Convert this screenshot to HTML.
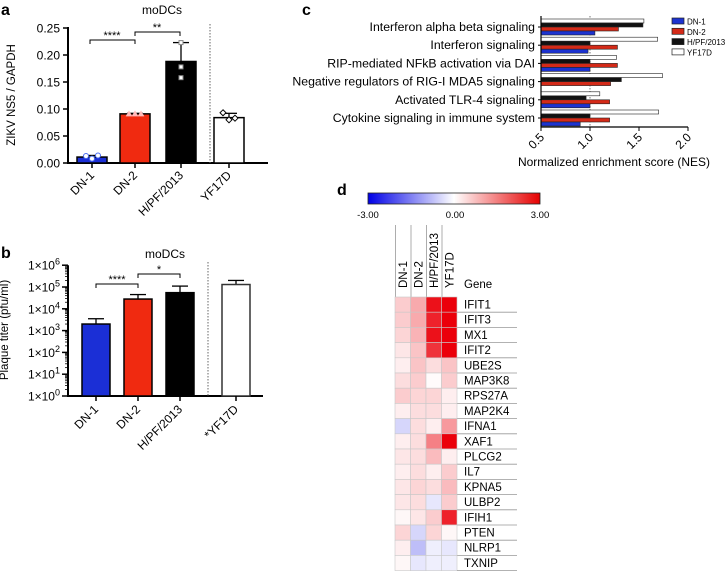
<!DOCTYPE html>
<html><head><meta charset="utf-8"><style>
body{margin:0;background:#fff}
svg{display:block;font-family:"Liberation Sans",Arial,sans-serif}
</style></head><body>
<svg id="fig" width="727" height="572" viewBox="0 0 727 572">
<g id="pa"></g>
<g id="pb"></g>
<g id="pc"></g>
<g id="pd"></g>
</svg>
<script>
// ---------- data ----------
const aCats = ["DN-1","DN-2","H/PF/2013","YF17D"];
const aVals = [0.011,0.091,0.188,0.084];
const aErr = [0.014,0.092,0.223,0.092];
const aPts = [[0.013,0.008,0.014],[0.091,0.091,0.091],[0.223,0.178,0.158],[0.093,0.080,0.083]];
const aTicks = [0,0.05,0.10,0.15,0.20,0.25];
const aTickLabels = ["0.00","0.05","0.10","0.15","0.20","0.25"];

const bCats = ["DN-1","DN-2","H/PF/2013","*YF17D"];
const bVals = [2000,28000,55000,130000];
const bErr = [3500,45000,110000,200000];
const bExps = [0,1,2,3,4,5,6];

const cCats = ["Interferon alpha beta signaling","Interferon signaling","RIP-mediated NFkB activation via DAI","Negative regulators of RIG-I MDA5 signaling","Activated TLR-4 signaling","Cytokine signaling in immune system"];
const cSeries = ["DN-1","DN-2","H/PF/2013","YF17D"];
const cDN1 = [1.05,0.98,1.0,0.5,1.0,0.9];
const cDN2 = [1.29,1.28,1.28,1.21,1.2,1.2];
const cHPF = [1.54,1.0,1.0,1.32,0.96,1.0];
const cYF = [1.55,1.69,1.27,1.74,1.1,1.7];
const cTicks = [0.5,1.0,1.5,2.0];

const dCols = ["DN-1","DN-2","H/PF/2013","YF17D"];
const dGenes = ["IFIT1","IFIT3","MX1","IFIT2","UBE2S","MAP3K8","RPS27A","MAP2K4","IFNA1","XAF1","PLCG2","IL7","KPNA5","ULBP2","IFIH1","PTEN","NLRP1","TXNIP"];
const dVals = [[0.6,1.0,2.8,3.0],[0.6,1.0,2.6,3.0],[0.5,0.9,2.8,3.0],[0.3,0.7,2.4,3.0],[0.2,0.7,0.4,0.7],[0.4,0.6,0.05,0.6],[0.6,0.5,0.5,0.2],[0.2,0.4,0.4,0.2],[-0.5,0.4,0.2,1.2],[0.2,0.4,1.5,3.0],[0.3,0.4,0.8,0.2],[0.2,0.4,0.2,0.6],[0.3,0.5,0.4,0.8],[0.3,0.4,-0.3,0.6],[0.1,0.3,0.6,2.6],[0.5,-0.5,0.5,0.1],[0.2,-0.8,-0.2,-0.3],[0.1,-0.3,-0.2,-0.2]];

// ---------- helpers ----------
const NS="http://www.w3.org/2000/svg";
function mk(parent,tag,attrs,text){const e=document.createElementNS(NS,tag);for(const k in attrs)e.setAttribute(k,attrs[k]);if(text!==undefined)e.textContent=text;parent.appendChild(e);return e;}
const fills=["#1b2fd6","#f02a10","#000","#fff"];

// ---------- panel a ----------
const pa=document.getElementById('pa');
const ya=v=>163-v/0.25*135;
const xaC=[92,135,181,229];
let t=mk(pa,'text',{x:1,y:15,'font-size':16,'font-weight':'bold'},'a');

t=mk(pa,'text',{x:162,y:14,'font-size':12,'text-anchor':'middle'},'moDCs');

t=mk(pa,'text',{x:15,y:95,'font-size':11.5,'text-anchor':'middle',transform:'rotate(-90 15 95)'},'ZIKV NS5 / GAPDH');

mk(pa,'line',{x1:68,y1:ya(0.25)-1,x2:68,y2:164,stroke:'#000','stroke-width':2});
mk(pa,'line',{x1:67,y1:163,x2:268,y2:163,stroke:'#000','stroke-width':2});
aTicks.forEach((v,i)=>{mk(pa,'line',{x1:63,y1:ya(v),x2:68,y2:ya(v),stroke:'#000','stroke-width':1.5});
 const l=mk(pa,'text',{x:60,y:ya(v)+4.5,'font-size':12,'text-anchor':'end'},aTickLabels[i]);
 });
mk(pa,'line',{x1:210,y1:24,x2:210,y2:163,stroke:'#666','stroke-width':1,'stroke-dasharray':'1.5,1.5'});
aCats.forEach((c,i)=>{const x=xaC[i];
 const r=mk(pa,'rect',{x:x-15,y:ya(aVals[i]),width:30,height:163-ya(aVals[i]),fill:fills[i],stroke:'#000','stroke-width':1.5});
 
 mk(pa,'line',{x1:x,y1:ya(aVals[i]),x2:x,y2:ya(aErr[i]),stroke:'#000','stroke-width':1.3});
 mk(pa,'line',{x1:x-8,y1:ya(aErr[i]),x2:x+8,y2:ya(aErr[i]),stroke:'#000','stroke-width':1.3});
 mk(pa,'line',{x1:x,y1:163,x2:x,y2:168,stroke:'#000','stroke-width':1.5});
 aPts[i].forEach((p,j)=>{const px=x-6+j*6,py=ya(p);
  if(i==0)mk(pa,'circle',{cx:px,cy:py,r:2.5,fill:'#fff',stroke:'#4a6cf0','stroke-width':1});
  else if(i==1)mk(pa,'path',{d:`M${px-2.5},${py+2} L${px},${py-2.5} L${px+2.5},${py+2}Z`,fill:'#fbb',stroke:'#fbb'});
  else if(i==2)mk(pa,'rect',{x:x-2,y:py-2,width:4,height:4,fill:'#fff',stroke:'#888','stroke-width':1});
  else mk(pa,'path',{d:`M${px},${py-3} L${px+3},${py} L${px},${py+3} L${px-3},${py}Z`,fill:'#fff',stroke:'#000','stroke-width':1});});
 const l=mk(pa,'text',{x:x+3,y:176,'font-size':12,'text-anchor':'end',transform:`rotate(-45 ${x+3} 176)`},c);
 });
mk(pa,'path',{d:'M90,44 V40 H135 V44',fill:'none',stroke:'#000','stroke-width':1});
mk(pa,'path',{d:'M135,36 V32 H180 V36',fill:'none',stroke:'#000','stroke-width':1});
mk(pa,'text',{x:112,y:39,'font-size':11,'text-anchor':'middle'},'****');
mk(pa,'text',{x:157,y:31,'font-size':11,'text-anchor':'middle'},'**');

// ---------- panel b ----------
const pb=document.getElementById('pb');
const yb=v=>396-Math.log10(v)*21.8;
const xbC=[96,138,180,236];
t=mk(pb,'text',{x:1,y:258,'font-size':16,'font-weight':'bold'},'b');

t=mk(pb,'text',{x:165,y:258,'font-size':12,'text-anchor':'middle'},'moDCs');

t=mk(pb,'text',{x:8,y:330,'font-size':11.5,'text-anchor':'middle',transform:'rotate(-90 8 330)'},'Plaque titer (pfu/ml)');

mk(pb,'line',{x1:68,y1:yb(1e6),x2:68,y2:397,stroke:'#000','stroke-width':2});
mk(pb,'line',{x1:67,y1:396,x2:263,y2:396,stroke:'#000','stroke-width':2});
bExps.forEach(e=>{const y=yb(Math.pow(10,e));
 mk(pb,'line',{x1:62,y1:y,x2:68,y2:y,stroke:'#000','stroke-width':1.5});
 if(e<6)for(let m=2;m<10;m++){const yy=yb(m*Math.pow(10,e));mk(pb,'line',{x1:65,y1:yy,x2:68,y2:yy,stroke:'#000','stroke-width':0.8});}
 const l=mk(pb,'text',{x:60,y:y+4.5,'font-size':12,'text-anchor':'end'});
 
 mk(l,'tspan',{},'1×10');mk(l,'tspan',{dy:-5,'font-size':9},String(e));});
mk(pb,'line',{x1:208,y1:262,x2:208,y2:396,stroke:'#666','stroke-width':1,'stroke-dasharray':'1.5,1.5'});
bCats.forEach((c,i)=>{const x=xbC[i];
 mk(pb,'line',{x1:x,y1:yb(bVals[i]),x2:x,y2:yb(bErr[i]),stroke:'#000','stroke-width':1.3});
 mk(pb,'line',{x1:x-8,y1:yb(bErr[i]),x2:x+8,y2:yb(bErr[i]),stroke:'#000','stroke-width':1.3});
 const r=mk(pb,'rect',{x:x-14,y:yb(bVals[i]),width:28,height:396-yb(bVals[i]),fill:fills[i],stroke:i==3?'#333':'#000','stroke-width':1.5});
 
 mk(pb,'line',{x1:x,y1:396,x2:x,y2:401,stroke:'#000','stroke-width':1.5});
 const l=mk(pb,'text',{x:x+3,y:410,'font-size':12,'text-anchor':'end',transform:`rotate(-45 ${x+3} 410)`},c);
 });
mk(pb,'path',{d:'M96,288 V284 H138 V288',fill:'none',stroke:'#000','stroke-width':1});
mk(pb,'path',{d:'M138,278 V274 H180 V278',fill:'none',stroke:'#000','stroke-width':1});
mk(pb,'text',{x:117,y:283,'font-size':11,'text-anchor':'middle'},'****');
mk(pb,'text',{x:159,y:273,'font-size':11,'text-anchor':'middle'},'*');

// ---------- panel c ----------
const pc=document.getElementById('pc');
const xc=v=>541+(v-0.5)*98;
const cAll=[cYF,cHPF,cDN2,cDN1];
const cFill=['#fff','#111','#d42a18','#1d33d0'];
t=mk(pc,'text',{x:302,y:15,'font-size':16,'font-weight':'bold'},'c');

mk(pc,'line',{x1:xc(1.0),y1:16,x2:xc(1.0),y2:127,stroke:'#555','stroke-width':0.8,'stroke-dasharray':'1.5,1.5'});
cCats.forEach((c,i)=>{const g=19+18.2*i;
 cAll.forEach((s,k)=>{const v=s[i];
  const r=mk(pc,'rect',{x:xc(0.5),y:g+k*4,width:Math.max(0,xc(v)-xc(0.5)),height:4,fill:cFill[k],stroke:'#222','stroke-width':0.6});
  });
 mk(pc,'line',{x1:538,y1:g+8,x2:541,y2:g+8,stroke:'#000','stroke-width':1});
 const l=mk(pc,'text',{x:535,y:g+12,'font-size':12.3,'text-anchor':'end'},c);
 });
mk(pc,'line',{x1:541,y1:16,x2:541,y2:127.5,stroke:'#000','stroke-width':1.2});
mk(pc,'line',{x1:541,y1:127,x2:xc(2.0),y2:127,stroke:'#000','stroke-width':1.2});
cTicks.forEach(v=>{mk(pc,'line',{x1:xc(v),y1:127,x2:xc(v),y2:131,stroke:'#000','stroke-width':1});
 const l=mk(pc,'text',{x:xc(v)+4,y:138,'font-size':12,'text-anchor':'end',transform:`rotate(-45 ${xc(v)+4} 138)`},v.toFixed(1));
 });
t=mk(pc,'text',{x:614,y:166,'font-size':12,'text-anchor':'middle'},'Normalized enrichment score (NES)');

cSeries.forEach((s,k)=>{const y=18+k*10.3;
 const r=mk(pc,'rect',{x:672,y:y,width:12,height:6,fill:cFill[3-k],stroke:'#222','stroke-width':0.7});
 
 const l=mk(pc,'text',{x:687,y:y+6.5,'font-size':8},s);
 });

// ---------- panel d ----------
const pd=document.getElementById('pd');
t=mk(pd,'text',{x:337,y:195,'font-size':16,'font-weight':'bold'},'d');

const defs=mk(pd,'defs',{});
const gr=mk(defs,'linearGradient',{id:'cb',x1:0,x2:1,y1:0,y2:0});
mk(gr,'stop',{offset:'0','stop-color':'#0000e6'});
mk(gr,'stop',{offset:'0.5','stop-color':'#ffffff'});
mk(gr,'stop',{offset:'1','stop-color':'#e60000'});
t=mk(pd,'rect',{x:368,y:193,width:172,height:11,fill:'url(#cb)',stroke:'#222','stroke-width':0.8});

[["-3.00",368],["0.00",455],["3.00",540]].forEach(([s,x])=>{const l=mk(pd,'text',{x:x,y:218,'font-size':9.5,'text-anchor':'middle'},s);
 });
function hc(v){const f=Math.min(1,Math.abs(v)/3);
 if(v>=0)return `rgb(${Math.round(255-20*f)},${Math.round(255-255*f)},${Math.round(255-245*f)})`;
 return `rgb(${Math.round(255-245*f)},${Math.round(255-245*f)},${Math.round(255-25*f)})`;}
const dx0=395,dw=15.5,dy0=297,dh=15.2;
dCols.forEach((c,j)=>{const x=dx0+j*dw;
 mk(pd,'line',{x1:x+0.5,y1:225,x2:x+0.5,y2:dy0,stroke:'#999','stroke-width':0.8});
 const l=mk(pd,'text',{x:x+12,y:288,'font-size':11.5,transform:`rotate(-90 ${x+12} 288)`},c);
 });
t=mk(pd,'text',{x:464,y:288,'font-size':11.5},'Gene');

dGenes.forEach((g,i)=>{const y=dy0+i*dh;
 dVals[i].forEach((v,j)=>{const r=mk(pd,'rect',{x:dx0+j*dw,y:y,width:dw,height:dh,fill:hc(v),stroke:'#c8c8c8','stroke-width':0.6});
  });
 mk(pd,'line',{x1:dx0+4*dw,y1:y+dh,x2:517,y2:y+dh,stroke:'#999','stroke-width':0.8});
 const l=mk(pd,'text',{x:464,y:y+11.5,'font-size':11.5},g);
 });
</script>
</body></html>
